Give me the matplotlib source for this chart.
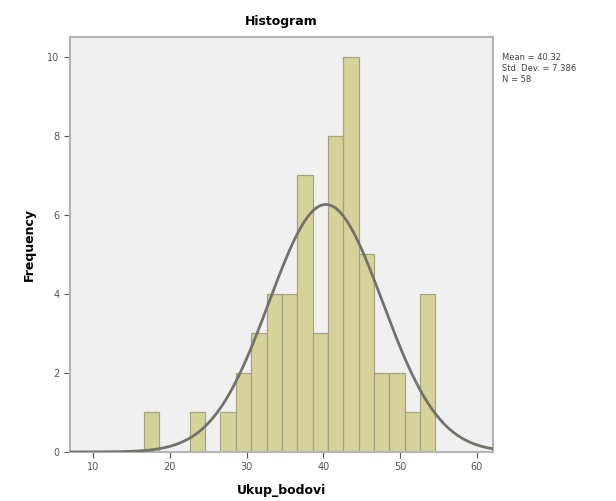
import numpy as np
import matplotlib.pyplot as plt

# histogram bins (width 2)
bin_centers = [17.6, 19.6, 21.6, 23.6, 25.6, 27.6, 29.6, 31.6, 33.6, 35.6,
               37.6, 39.6, 41.6, 43.6, 45.6, 47.6, 49.6, 51.6, 53.6]
counts = [1, 0, 0, 1, 0, 1, 2, 3, 4, 4,
          7, 3, 8, 10, 5, 2, 2, 1, 4]
bin_width = 2.0

x_ticks = [10, 20, 30, 40, 50, 60]
y_ticks = [0, 2, 4, 6, 8, 10]

centers = np.array(bin_centers)
n = np.array(counts)
N = n.sum()
mean = (centers * n).sum() / N
sd = np.sqrt(((centers - mean) ** 2 * n).sum() / (N - 1))

fig = plt.figure(figsize=(6.16, 5.01), dpi=100)
ax = fig.add_axes([0.1136, 0.0978, 0.6867, 0.828])
ax.set_facecolor("#f0f0f0")

ax.bar(centers, n, width=bin_width, color="#d6d29a", edgecolor="#a4a482",
       linewidth=0.9, zorder=2)

xs = np.linspace(5, 64, 300)
curve = N * bin_width / (sd * np.sqrt(2 * np.pi)) * np.exp(-0.5 * ((xs - mean) / sd) ** 2)
ax.plot(xs, curve, color="#72726a", linewidth=2.0, zorder=3)

ax.set_xlim(7.0, 62.1)
ax.set_ylim(0, 10.5)
ax.set_xticks(x_ticks)
ax.set_yticks(y_ticks)
ax.tick_params(labelsize=7, colors="#555555", length=4)
for s in ax.spines.values():
    s.set_color("#b4b4b4")
    s.set_linewidth(1.5)

ax.set_title("Histogram", fontsize=9, fontweight="bold", pad=9)
ax.set_xlabel("Ukup_bodovi", fontsize=9, fontweight="bold", labelpad=8)
ax.set_ylabel("Frequency", fontsize=9, fontweight="bold", labelpad=8)

fig.text(0.815, 0.895, f"Mean = {mean:.2f}\nStd. Dev. = {sd:.3f}\nN = {N}",
         fontsize=6, color="#444444", va="top", linespacing=1.3)

plt.savefig("out.png")
